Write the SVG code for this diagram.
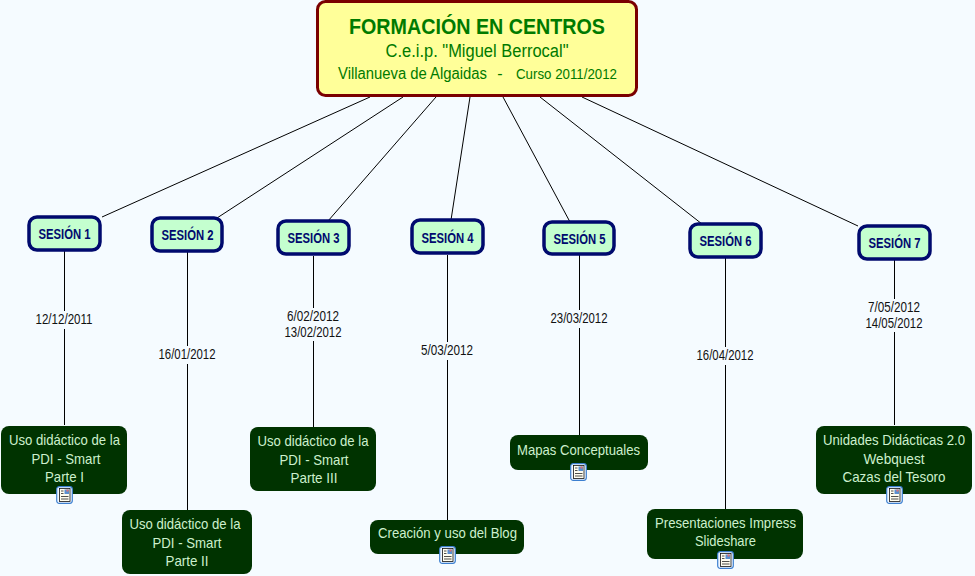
<svg xmlns="http://www.w3.org/2000/svg" width="975" height="576" viewBox="0 0 975 576">
<style>
text{font-family:"Liberation Sans",Arial,sans-serif;text-anchor:middle}
.c{stroke:#000;stroke-width:1;fill:none}
.s rect{fill:#C4FFCF;stroke:#000A6E;stroke-width:3.5}
.s text{font-size:14px;font-weight:bold;fill:#000A6E}
.d rect{fill:#003300}
.d text{font-size:15px;fill:#CDF0CD}
.d text.t{font-size:14px}
.l{font-size:14px;fill:#111}
.r text{fill:#007A00}
</style>
<defs>
<g id="ic">
<rect x="0.7" y="0.7" width="15.6" height="16.6" rx="2.500" fill="#F0F7FF" stroke="#3C7FD0" stroke-width="1.2"/>
<rect x="3.500" y="2.500" width="10.500" height="13" fill="#FFFDF0" stroke="#111" stroke-width="0.8"/>
<path d="M5 5h2.500M5 7.500h2.500M5 10.500h7.500M5 13h7.500" stroke="#222" stroke-width="0.8"/>
<rect x="8.500" y="3.500" width="4.500" height="4.500" fill="#5A8FD0"/>
<rect x="10.500" y="3.500" width="2" height="2" fill="#E07070"/>
</g>
</defs>
<rect width="975" height="576" fill="#F5FBFF"/>
<g id="connectors" class="c">
<path d="M370 97L102 217M403 97L217 218M436 97L328 221M470 97L451 220M503 97L570 222M540 97L702 224M582 97L858 226"/>
<path d="M64.500 251V311M64.500 329V425M187.500 252V346M187.500 364V510M313.500 256V308M313.500 341V427M447.500 255V342M447.500 360V520M579.500 255V310M579.500 328V435M725.500 258V347M725.500 365V509M894.500 260V299M894.500 332V425"/>
</g>
<g id="root" class="r">
<rect x="317.500" y="1.500" width="319" height="94" rx="8" fill="#FFFF99" stroke="#7A0000" stroke-width="3"/>
<text x="477" y="34" font-size="22" font-weight="bold" textLength="256" lengthAdjust="spacingAndGlyphs">FORMACIÓN EN CENTROS</text>
<text x="477" y="57" font-size="18" textLength="183" lengthAdjust="spacingAndGlyphs">C.e.i.p. "Miguel Berrocal"</text>
<text x="412.500" y="79" font-size="16" textLength="149" lengthAdjust="spacingAndGlyphs">Villanueva de Algaidas</text>
<text x="500" y="79" font-size="16">-</text>
<text x="566.500" y="79" font-size="14" textLength="101" lengthAdjust="spacingAndGlyphs">Curso 2011/2012</text>
</g>
<g id="s1" class="s"><rect x="29" y="217" width="71" height="33" rx="8"/><text x="64.500" y="239" textLength="52" lengthAdjust="spacingAndGlyphs">SESIÓN 1</text></g>
<g id="s2" class="s"><rect x="152" y="218" width="70" height="33" rx="8"/><text x="187.500" y="240" textLength="52" lengthAdjust="spacingAndGlyphs">SESIÓN 2</text></g>
<g id="s3" class="s"><rect x="278" y="221" width="71" height="33" rx="8"/><text x="313.500" y="243" textLength="52" lengthAdjust="spacingAndGlyphs">SESIÓN 3</text></g>
<g id="s4" class="s"><rect x="412" y="220" width="71" height="33" rx="8"/><text x="447.500" y="243" textLength="52" lengthAdjust="spacingAndGlyphs">SESIÓN 4</text></g>
<g id="s5" class="s"><rect x="544" y="222" width="70" height="32" rx="8"/><text x="579.500" y="244" textLength="52" lengthAdjust="spacingAndGlyphs">SESIÓN 5</text></g>
<g id="s6" class="s"><rect x="690" y="224" width="71" height="33" rx="8"/><text x="725.500" y="246" textLength="52" lengthAdjust="spacingAndGlyphs">SESIÓN 6</text></g>
<g id="s7" class="s"><rect x="859" y="226" width="71" height="33" rx="8"/><text x="894.500" y="248" textLength="52" lengthAdjust="spacingAndGlyphs">SESIÓN 7</text></g>
<g id="l1"><text class="l" x="64" y="324" textLength="57" lengthAdjust="spacingAndGlyphs">12/12/2011</text></g>
<g id="l2"><text class="l" x="187" y="359" textLength="57" lengthAdjust="spacingAndGlyphs">16/01/2012</text></g>
<g id="l3"><text class="l" x="313" y="321" textLength="52" lengthAdjust="spacingAndGlyphs">6/02/2012</text><text class="l" x="313" y="337" textLength="57" lengthAdjust="spacingAndGlyphs">13/02/2012</text></g>
<g id="l4"><text class="l" x="447" y="355" textLength="52" lengthAdjust="spacingAndGlyphs">5/03/2012</text></g>
<g id="l5"><text class="l" x="579" y="323" textLength="57" lengthAdjust="spacingAndGlyphs">23/03/2012</text></g>
<g id="l6"><text class="l" x="725" y="360" textLength="57" lengthAdjust="spacingAndGlyphs">16/04/2012</text></g>
<g id="l7"><text class="l" x="894" y="312" textLength="52" lengthAdjust="spacingAndGlyphs">7/05/2012</text><text class="l" x="894" y="328" textLength="57" lengthAdjust="spacingAndGlyphs">14/05/2012</text></g>
<g id="n1" class="d"><rect x="1" y="426" width="126" height="68" rx="8"/><text x="64.500" y="445" textLength="111" lengthAdjust="spacingAndGlyphs">Uso didáctico de la</text><text x="66" y="464" textLength="69" lengthAdjust="spacingAndGlyphs">PDI - Smart</text><text x="64.500" y="482" textLength="39" lengthAdjust="spacingAndGlyphs">Parte I</text><use href="#ic" x="56" y="486"/></g>
<g id="n2" class="d"><rect x="122" y="510" width="130" height="64" rx="8"/><text x="185" y="529" textLength="111" lengthAdjust="spacingAndGlyphs">Uso didáctico de la</text><text x="187" y="548" textLength="69" lengthAdjust="spacingAndGlyphs">PDI - Smart</text><text x="187" y="566" textLength="43" lengthAdjust="spacingAndGlyphs">Parte II</text></g>
<g id="n3" class="d"><rect x="250" y="427" width="126" height="64" rx="8"/><text x="313" y="446" textLength="111" lengthAdjust="spacingAndGlyphs">Uso didáctico de la</text><text x="314" y="465" textLength="69" lengthAdjust="spacingAndGlyphs">PDI - Smart</text><text x="314" y="483" textLength="47" lengthAdjust="spacingAndGlyphs">Parte III</text></g>
<g id="n4" class="d"><rect x="370" y="520" width="154" height="34" rx="8"/><text x="447.500" y="538" textLength="139" lengthAdjust="spacingAndGlyphs">Creación y uso del Blog</text><use href="#ic" x="439" y="546"/></g>
<g id="n5" class="d"><rect x="510" y="435" width="138" height="35" rx="8"/><text x="578.500" y="455" textLength="123" lengthAdjust="spacingAndGlyphs">Mapas Conceptuales</text><use href="#ic" x="570" y="463"/></g>
<g id="n6" class="d"><rect x="647" y="509" width="156" height="50" rx="8"/><text x="725.500" y="528" textLength="141" lengthAdjust="spacingAndGlyphs">Presentaciones Impress</text><text x="725.500" y="546" textLength="61" lengthAdjust="spacingAndGlyphs">Slideshare</text><use href="#ic" x="717" y="551"/></g>
<g id="n7" class="d"><rect x="816" y="426" width="156" height="68" rx="8"/><text class="t" x="894" y="445" textLength="142" lengthAdjust="spacingAndGlyphs">Unidades Didácticas 2.0</text><text x="894" y="464" textLength="61" lengthAdjust="spacingAndGlyphs">Webquest</text><text x="894" y="482" textLength="103" lengthAdjust="spacingAndGlyphs">Cazas del Tesoro</text><use href="#ic" x="886" y="486"/></g>
</svg>
